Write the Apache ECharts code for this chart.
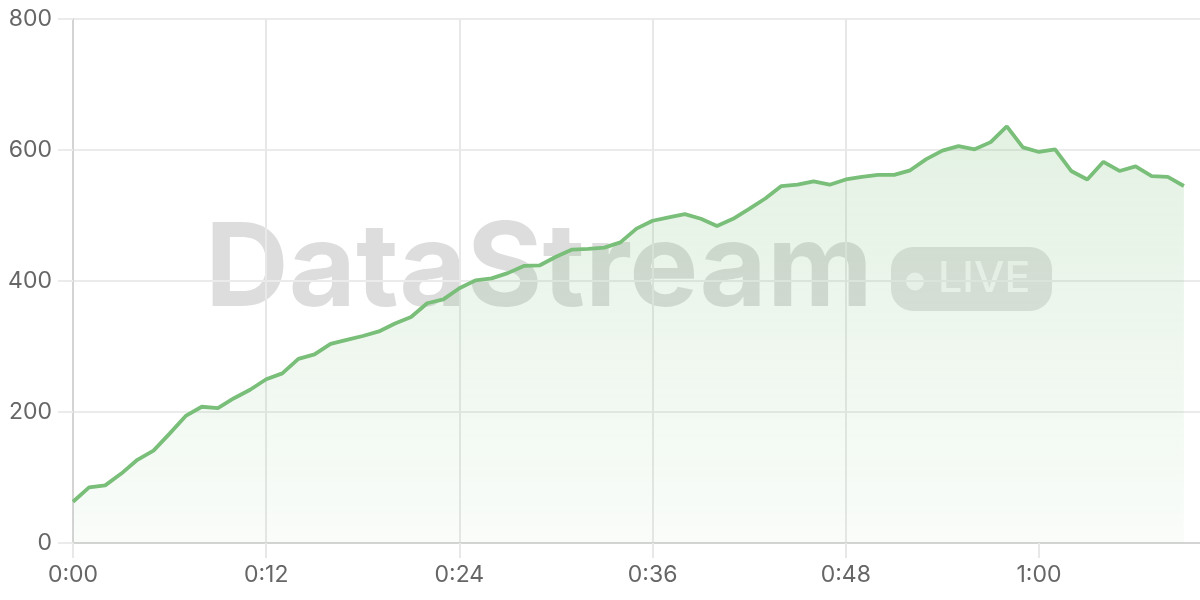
<!DOCTYPE html>
<html>
<head>
<meta charset="utf-8">
<script src="https://cdn.jsdelivr.net/npm/echarts@6/dist/echarts.min.js"></script>
<style>
html,body{margin:0;padding:0;background:#fff;}
#c{width:1200px;height:600px;}
</style>
</head>
<body>
<div id="c"></div>
<script>
// seconds elapsed (one point per second)
const seconds = [0,1,2,3,4,5,6,7,8,9,10,11,12,13,14,15,16,17,18,19,20,21,22,23,24,25,26,27,28,29,30,31,32,33,34,35,36,37,38,39,40,41,42,43,44,45,46,47,48,49,50,51,52,53,54,55,56,57,58,59,60,61,62,63,64,65,66,67,68,69];
const values = [63,85,88,106,127,141,167,194,208,206,221,234,250,259,281,288,304,310,316,323,335,345,366,372,389,401,404,412,423,424,437,448,449,451,459,480,492,497,502,495,484,495,510,526,545,547,552,547,555,559,562,562,569,586,599,606,601,612,636,604,597,601,568,555,582,568,575,560,559,545];
const xTicks = [0,12,24,36,48,60];
const xMax = 70;
const yTicks = [0,200,400,600,800];
const watermarkTitle = 'DataStream';
const watermarkBadge = 'LIVE';

function fmtTime(v){
  const m = Math.floor(v/60), s = v%60;
  return m + ':' + (s<10?'0':'') + s;
}

const chart = echarts.init(document.getElementById('c'), null, {renderer:'canvas'});

chart.setOption({
  animation:false,
  grid:{left:73,top:19,right:0,bottom:57,containLabel:false},
  xAxis:{
    type:'value', min:0, max:xMax, interval:12,
    axisLine:{show:true,lineStyle:{color:'#d4d4d4',width:2}},
    axisTick:{show:true,length:15,customValues:xTicks,lineStyle:{color:'#e8e8e8',width:2}},
    splitLine:{show:true,showMaxLine:false,lineStyle:{color:'#e8e8e8',width:2}},
    axisLabel:{color:'#666',fontSize:23,fontFamily:'Inter',margin:21,customValues:xTicks,
      formatter:function(v){ return fmtTime(v); }}
  },
  yAxis:{
    type:'value', min:yTicks[0], max:yTicks[yTicks.length-1], interval:200,
    axisLine:{show:true,lineStyle:{color:'#d4d4d4',width:2}},
    axisTick:{show:true,length:15,lineStyle:{color:'#ebebeb',width:2}},
    splitLine:{show:true,lineStyle:{color:'#ebebeb',width:2}},
    axisLabel:{color:'#666',fontSize:23,fontFamily:'Inter',margin:21}
  },
  graphic:[{
    type:'group', z:1,
    children:[
      {type:'text', x:205, y:271,
        style:{text:watermarkTitle, font:'bold 116px Inter', fill:'rgba(0,0,0,0.135)', align:'left', verticalAlign:'middle'}},
      {type:'rect', shape:{x:891,y:247,width:161,height:64,r:22},
        style:{fill:'rgba(0,0,0,0.11)'}},
      {type:'circle', shape:{cx:915, cy:281.5, r:9}, style:{fill:'rgba(255,255,255,0.75)'}},
      {type:'text', x:938, y:279,
        style:{text:watermarkBadge, font:'500 43px Inter', fill:'rgba(255,255,255,0.75)', align:'left', verticalAlign:'middle'}}
    ]
  }],
  series:[{
    type:'line',
    data:seconds.map((s,i)=>[s,values[i]]),
    showSymbol:false, symbol:'none',
    lineStyle:{color:'#79be79',width:3.8},
    itemStyle:{color:'#79be79'},
    areaStyle:{color:new echarts.graphic.LinearGradient(0,0,0,1,[
      {offset:0,color:'rgba(121,190,121,0.3)'},
      {offset:1,color:'rgba(121,190,121,0.06)'}
    ])},
    z:3
  }]
});
</script>
</body>
</html>
